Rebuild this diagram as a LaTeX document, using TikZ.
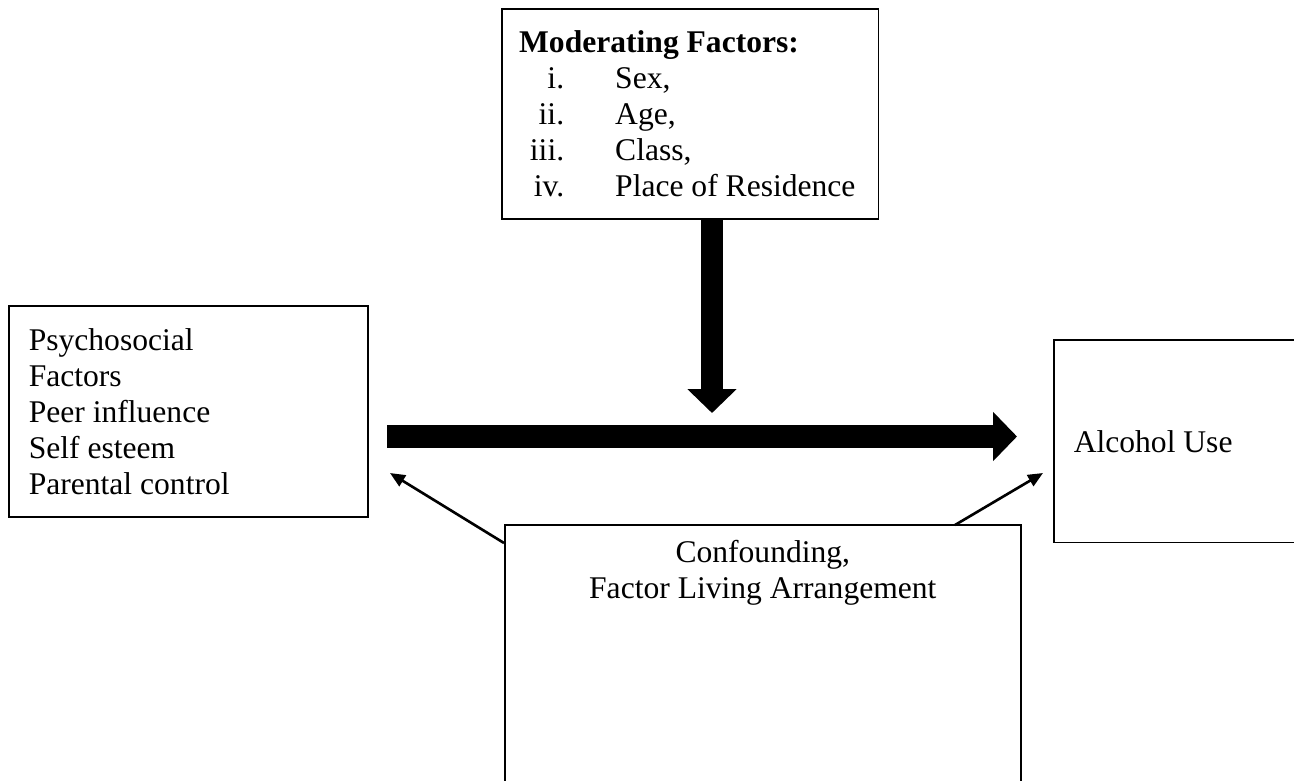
\documentclass[tikz,border=0pt]{standalone}
\usepackage{fontspec}
\setmainfont{Liberation Serif}
\usetikzlibrary{arrows.meta}
\tikzset{
    factorbox/.style={
        rectangle,
        draw=black, % thin black frame
        line width=0.6pt,
        inner xsep=7.6pt,
        inner ysep=0pt,
        align=flush left,
        font=\fontsize{12}{13.7}\selectfont
    },
    fatarrow/.style={
        line width=8.7pt, % heavy shaft
        -{Triangle[width=18.2pt,length=9.1pt]}
    },
    thinarrow/.style={
        line width=1pt,
        -{Triangle[width=4.8pt,length=5.7pt]}
    }
}
\newcommand{\romitem}[2]{\makebox[17.1pt][r]{#1}\hspace{19.4pt}#2}

\begin{document}
\begin{tikzpicture}[x=0.38pt, y=-0.38pt]
    \useasboundingbox (0,0) rectangle (1294,780);
    % boxes
    \node[factorbox, anchor=north west, inner xsep=6.6pt, text width=130pt, minimum height=79.8pt] (mod) at (501,8) {
        \textbf{Moderating Factors:}\\
        \romitem{i.}{Sex,}\\
        \romitem{ii.}{Age,}\\
        \romitem{iii.}{Class,}\\
        \romitem{iv.}{Place of Residence}
    };
    \node[factorbox, anchor=north west, text width=121.2pt, minimum height=80.2pt] (psych) at (8,305) {
        Psychosocial\\
        Factors\\
        Peer influence\\
        Self esteem\\
        Parental control
    };
    \node[factorbox, anchor=north west, text width=78.7pt, minimum height=77.1pt] (alc) at (1053,339) {Alcohol Use};
    \node[factorbox, anchor=north west, minimum width=196.1pt, minimum height=105pt,
        label={[name=conftext, anchor=north, align=center, yshift=-2.5pt,
                font=\fontsize{12}{13.7}\selectfont]north:{Confounding,\\Factor Living Arrangement}}] (conf) at (504,524) {};
    % arrows
    \coordinate (modout) at (712,218);
    \coordinate (modin) at (712,413);
    \coordinate (psychout) at (387,436.5);
    \coordinate (alcin) at (1017,436.5);
    \coordinate (conflo) at (504,543);
    \coordinate (confhi) at (955,525);
    \coordinate (psychtip) at (390,473);
    \coordinate (alctip) at (1043,473);
    \draw[fatarrow] (modout) -- (modin);
    \draw[fatarrow] (psychout) -- (alcin);
    \draw[thinarrow] (conflo) -- (psychtip);
    \draw[thinarrow] (confhi) -- (alctip);
\end{tikzpicture}
\end{document}
